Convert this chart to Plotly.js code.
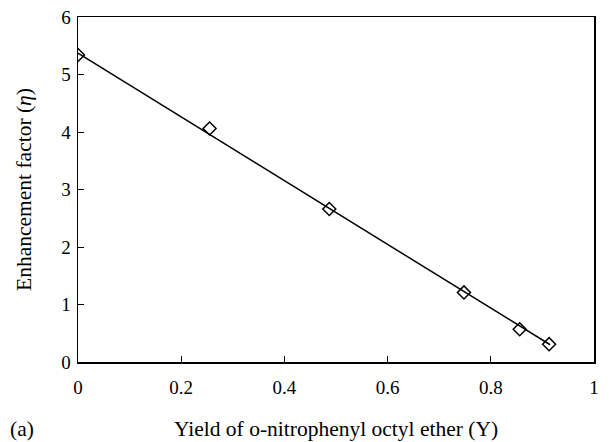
<!DOCTYPE html>
<html>
<head>
<meta charset="utf-8">
<script src="https://cdn.plot.ly/plotly-3.0.1.min.js"></script>
<style>html,body{margin:0;padding:0;background:#fff;}#chart{width:616px;height:442px;}</style>
</head>
<body>
<div id="chart"></div>
<script>
// Measured data
const yieldY = [0.0, 0.255, 0.487, 0.748, 0.856, 0.913];
const enhancement = [5.34, 4.06, 2.66, 1.21, 0.57, 0.31];
// Fitted line end points
const fitX = [0.0, 0.915];
const fitY = [5.37, 0.30];

const font = 'Liberation Serif, Times New Roman, serif';

const traces = [
  {x: fitX, y: fitY, mode: 'lines', line: {color: '#000', width: 1.5}, showlegend: false, hoverinfo: 'skip'},
  {x: yieldY, y: enhancement, mode: 'markers', marker: {symbol: 'diamond-open', size: 10, color: '#000', line: {width: 1.5, color: '#000'}}, showlegend: false}
];

const axisCommon = {
  showgrid: false, zeroline: false, showline: true, linecolor: '#000', linewidth: 1.5,
  mirror: true, ticks: 'inside', ticklen: 6, tickwidth: 1, tickcolor: '#000',
  tickfont: {family: font, size: 19, color: '#000'}
};

const layout = {
  width: 616, height: 442,
  margin: {l: 78, r: 22, t: 17, b: 80},
  paper_bgcolor: '#fff', plot_bgcolor: '#fff',
  xaxis: Object.assign({}, axisCommon, {
    range: [0, 1], dtick: 0.2, tick0: 0, ticklabelstandoff: 8,
    title: {text: 'Yield of o-nitrophenyl octyl ether (Y)', font: {family: font, size: 21.5, color: '#000'}, standoff: 23}
  }),
  yaxis: Object.assign({}, axisCommon, {
    range: [0, 6], dtick: 1, tick0: 0, ticklabelstandoff: 2,
    title: {text: 'Enhancement factor (<i>η</i>)', font: {family: font, size: 21.5, color: '#000'}, standoff: 23}
  }),
  annotations: [
    {text: '(a)', xref: 'paper', yref: 'paper', x: -0.109, y: -0.195, xanchor: 'center', yanchor: 'middle',
     showarrow: false, font: {family: font, size: 21.5, color: '#000'}}
  ]
};

Plotly.newPlot('chart', traces, layout, {displayModeBar: false, staticPlot: true});
</script>
</body>
</html>
